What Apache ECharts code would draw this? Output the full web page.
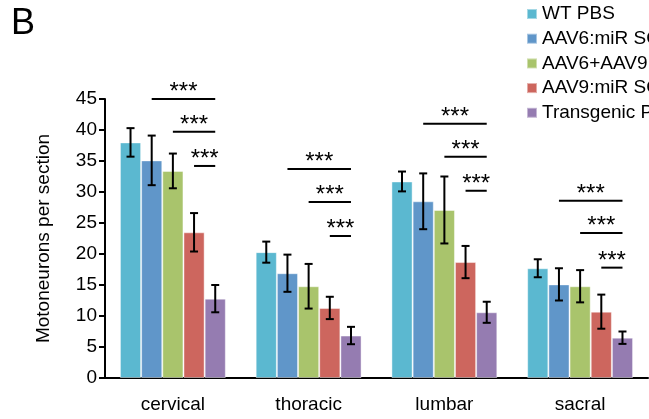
<!DOCTYPE html>
<html>
<head>
<meta charset="utf-8">
<script src="https://cdn.jsdelivr.net/npm/echarts@6/dist/echarts.min.js"></script>
<style>
  html, body { margin: 0; padding: 0; background: #fff; }
  #main { width: 649px; height: 419px; }
</style>
</head>
<body>
<div id="main"></div>
<script>
// regions along the spinal cord
var categories = ['cervical', 'thoracic', 'lumbar', 'sacral'];
var seriesNames = ['WT PBS', 'AAV6:miR SOD1', 'AAV6+AAV9:miR SOD1', 'AAV9:miR SOD1', 'Transgenic PBS'];

// mean motoneurons per section
var wtPbs = [38.0, 20.3, 31.7, 17.7];
var aav6 = [35.1, 16.9, 28.5, 15.1];
var aav69 = [33.4, 14.8, 27.1, 14.8];
var aav9 = [23.5, 11.3, 18.7, 10.7];
var tgPbs = [12.8, 6.85, 10.6, 6.5];

// error (+/-)
var wtPbsErr = [2.3, 1.7, 1.6, 1.45];
var aav6Err = [4.0, 3.0, 4.5, 2.6];
var aav69Err = [2.8, 3.6, 5.4, 2.6];
var aav9Err = [3.1, 1.8, 2.6, 2.75];
var tgPbsErr = [2.2, 1.4, 1.7, 1.0];

// significance bracket heights per region (to Transgenic PBS from series 1, 2, 3)
var sigLevels = [
  [45.0, 39.7, 34.2],
  [33.7, 28.4, 22.9],
  [41.0, 35.7, 30.2],
  [28.6, 23.4, 17.8]
];

var colors = ['#5bb8d0', '#6096c9', '#a9c46c', '#cd665e', '#957cb1'];
var means = [wtPbs, aav6, aav69, aav9, tgPbs];
var errs = [wtPbsErr, aav6Err, aav69Err, aav9Err, tgPbsErr];

var FONT = 'Liberation Sans, Arial, sans-serif';
var GAP = 0.22; // barCategoryGap

function barOffset(api, s) {
  var band = api.size([1, 0])[0];
  var bw = band * (1 - GAP) / 5;
  return (s - 2) * bw;
}

// error bar data: [cat, low, high, seriesIdx]
var errData = [];
means.forEach(function (arr, s) {
  arr.forEach(function (v, c) {
    errData.push([c, v - errs[s][c], v + errs[s][c], s]);
  });
});

// bracket data: [cat, level, startSeries]
var sigData = [];
sigLevels.forEach(function (lv, c) {
  lv.forEach(function (y, k) {
    sigData.push([c, y, k + 1]);
  });
});

var series = seriesNames.map(function (name, i) {
  return {
    name: name,
    type: 'bar',
    data: means[i],
    barGap: '0%',
    barCategoryGap: '22%',
    itemStyle: {
      color: colors[i],
      borderColor: 'rgba(255,255,255,0.45)',
      borderWidth: 1
    }
  };
});

series.push({
  type: 'custom',
  name: 'err',
  data: errData,
  encode: { x: 0, y: [1, 2] },
  z: 5,
  renderItem: function (params, api) {
    var c = api.value(0), s = api.value(3);
    var lo = api.coord([c, api.value(1)]);
    var hi = api.coord([c, api.value(2)]);
    var x = lo[0] + barOffset(api, s);
    var w = 4;
    var st = { stroke: '#000', lineWidth: 2 };
    return {
      type: 'group',
      children: [
        { type: 'line', shape: { x1: x, y1: lo[1], x2: x, y2: hi[1] }, style: st },
        { type: 'line', shape: { x1: x - w, y1: lo[1], x2: x + w, y2: lo[1] }, style: st },
        { type: 'line', shape: { x1: x - w, y1: hi[1], x2: x + w, y2: hi[1] }, style: st }
      ]
    };
  }
});

series.push({
  type: 'custom',
  name: 'sig',
  data: sigData,
  encode: { x: 0, y: 1 },
  z: 5,
  renderItem: function (params, api) {
    var c = api.value(0), s = api.value(2);
    var p = api.coord([c, api.value(1)]);
    var x1 = p[0] + barOffset(api, s);
    var x2 = p[0] + barOffset(api, 4);
    return {
      type: 'group',
      children: [
        { type: 'line', shape: { x1: x1, y1: p[1], x2: x2, y2: p[1] }, style: { stroke: '#000', lineWidth: 2 } },
        {
          type: 'text',
          style: {
            text: '***', x: (x1 + x2) / 2, y: p[1] - 6.5,
            align: 'center', verticalAlign: 'middle',
            fontSize: 24, fontFamily: FONT, fill: '#000'
          }
        }
      ]
    };
  }
});

var option = {
  animation: false,
  title: {
    text: 'B',
    left: 6,
    top: 1,
    textStyle: { fontSize: 36, fontWeight: 'normal', fontFamily: FONT, color: '#000' }
  },
  legend: {
    data: seriesNames,
    orient: 'vertical',
    left: 526,
    top: 4,
    padding: 0,
    icon: 'rect',
    itemWidth: 10,
    itemHeight: 10,
    itemGap: 4.7,
    textStyle: { fontSize: 19, fontFamily: FONT, color: '#000', lineHeight: 20 }
  },
  grid: { left: 105, right: 1, top: 99, bottom: 41 },
  xAxis: {
    type: 'category',
    data: categories,
    axisLine: { lineStyle: { color: '#000', width: 2 } },
    axisTick: { length: 6, lineStyle: { color: '#000', width: 2 } },
    axisLabel: { fontSize: 19, fontFamily: FONT, color: '#000', margin: 17 }
  },
  yAxis: {
    type: 'value',
    min: 0,
    max: 45,
    interval: 5,
    name: 'Motoneurons per section',
    nameLocation: 'middle',
    nameGap: 52,
    nameTextStyle: { fontSize: 19, fontFamily: FONT, color: '#000' },
    axisLine: { show: true, lineStyle: { color: '#000', width: 2 } },
    axisTick: { show: true, length: 6, lineStyle: { color: '#000', width: 2 } },
    splitLine: { show: false },
    axisLabel: { fontSize: 19, fontFamily: FONT, color: '#000', margin: 8 }
  },
  series: series
};

var myChart = echarts.init(document.getElementById('main'));
myChart.setOption(option);
</script>
</body>
</html>
